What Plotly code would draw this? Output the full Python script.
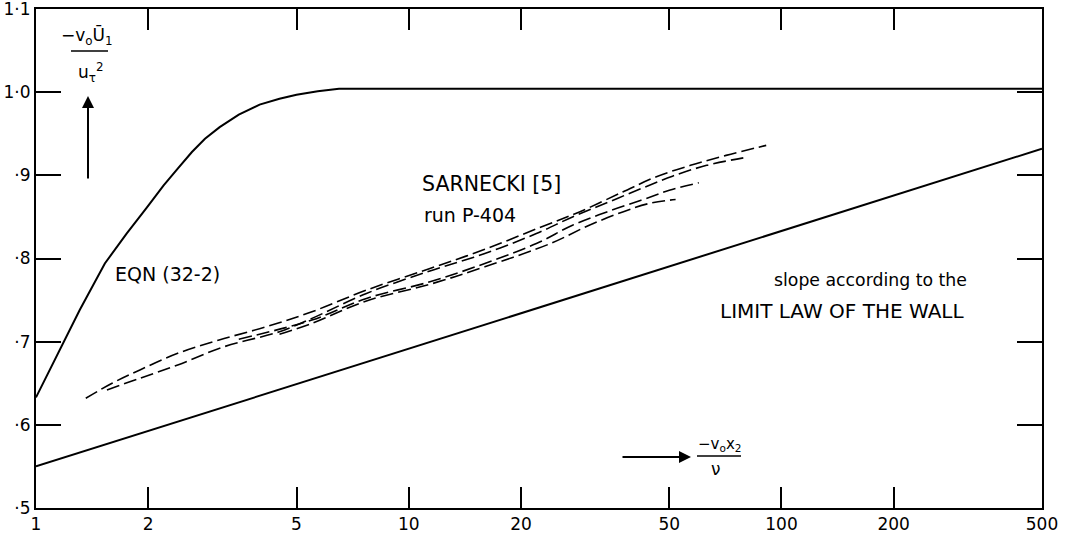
import plotly.graph_objects as go
import math

# ---- data ----
eqn_x = [1.0, 1.1, 1.2, 1.31, 1.53, 1.75, 1.98, 2.2, 2.4, 2.62, 2.84, 3.11, 3.5, 3.98, 4.5, 5.0, 5.7, 6.5, 500]
eqn_y = [0.633, 0.670, 0.705, 0.738, 0.794, 0.830, 0.861, 0.888, 0.908, 0.928, 0.944, 0.958, 0.973, 0.985, 0.992, 0.997, 1.001, 1.004, 1.004]

law_x = [1, 500]
law_y = [0.550, 0.932]

s1_x = [1.36, 1.6, 1.9, 2.4, 3.1, 4.15, 5.5, 7.7, 11.4, 16, 22.4, 28.7, 37.5, 46, 57, 71, 91]
s1_y = [0.632, 0.650, 0.666, 0.686, 0.702, 0.718, 0.736, 0.762, 0.788, 0.811, 0.837, 0.856, 0.880, 0.898, 0.912, 0.924, 0.936]

s2_x = [1.55, 1.9, 2.4, 3.2, 4.5, 5.5, 7.7, 11.4, 16, 22, 27.5, 34, 42, 51, 63, 79]
s2_y = [0.642, 0.656, 0.672, 0.694, 0.712, 0.728, 0.758, 0.785, 0.806, 0.830, 0.850, 0.867, 0.884, 0.899, 0.912, 0.921]

s3_x = [3.5, 5.5, 7.7, 11.4, 16, 22, 27.5, 34, 42, 50, 60]
s3_y = [0.703, 0.726, 0.752, 0.772, 0.794, 0.818, 0.840, 0.856, 0.870, 0.882, 0.891]

s4_x = [4.5, 5.5, 7.7, 11.4, 16, 24, 30.5, 37.5, 44, 52]
s4_y = [0.709, 0.722, 0.749, 0.769, 0.790, 0.818, 0.840, 0.856, 0.866, 0.871]

x_ticks = [1, 2, 5, 10, 20, 50, 100, 200, 500]
x_ticktext = ["1", "2", "5", "10", "20", "50", "100", "200", "500"]
y_ticks = [0.5, 0.6, 0.7, 0.8, 0.9, 1.0, 1.1]
y_ticktext = ["·5", "·6", "·7", "·8", "·9", "1·0", "1·1"]

# ---- figure ----
W, H = 1076, 537
ML, MR, MT, MB = 36, 34, 9, 29
PW, PH = W - ML - MR, H - MT - MB

def px(x):
    return (x - ML) / PW

def py(y):
    return (H - MB - y) / PH

FONT = "DejaVu Sans"
fig = go.Figure()

fig.add_trace(go.Scatter(x=eqn_x, y=eqn_y, mode="lines",
                         line=dict(color="black", width=2), showlegend=False))
fig.add_trace(go.Scatter(x=law_x, y=law_y, mode="lines",
                         line=dict(color="black", width=2), showlegend=False))
for sx, sy in [(s1_x, s1_y), (s2_x, s2_y), (s3_x, s3_y), (s4_x, s4_y)]:
    fig.add_trace(go.Scatter(x=sx, y=sy, mode="lines", line_shape="spline",
                             line=dict(color="black", width=1.6, dash="13px,5px"),
                             showlegend=False))

axis_common = dict(showline=True, linewidth=2, linecolor="black", mirror="ticks",
                   ticks="inside", tickcolor="black", tickwidth=2,
                   showgrid=False, zeroline=False, automargin=False,
                   ticklabeloverflow="allow",
                   tickfont=dict(family=FONT, size=17, color="black"))

fig.update_xaxes(type="log", range=[0, math.log10(500)], tickvals=x_ticks,
                 ticktext=x_ticktext, ticklen=21, ticklabelstandoff=0, **axis_common)
fig.update_yaxes(range=[0.5, 1.1], tickvals=y_ticks, ticktext=y_ticktext,
                 ticklen=25, ticklabelstandoff=0, **axis_common)

ann = []
def text(x, y, t, size=19, xanchor="left"):
    ann.append(dict(x=px(x), y=py(y), xref="paper", yref="paper", text=t,
                    showarrow=False, xanchor=xanchor, yanchor="middle",
                    font=dict(family=FONT, size=size, color="black")))

text(113, 274, "EQN (32-2)")
text(420, 184, "SARNECKI [5]", size=20.5)
text(422, 215, "run P-404")
text(772, 280, "slope according to the", size=17.3)
text(718, 311, "LIMIT LAW OF THE WALL", size=20)

# y-axis quantity label
text(87, 36, "−v<sub>o</sub>Ū<sub>1</sub>", size=17, xanchor="center")
text(91, 72, "u<sub>τ</sub><sup>2</sup>", size=17, xanchor="center")
# x-axis quantity label
text(719, 444, "−v<sub>o</sub>x<sub>2</sub>", size=15, xanchor="center")
text(716, 469, "ν", size=17, xanchor="center")

# arrows
ann.append(dict(x=px(88), y=py(96), xref="paper", yref="paper", text="",
                showarrow=True, ax=0, ay=84, arrowhead=2, arrowsize=1.2,
                arrowwidth=2, arrowcolor="black"))
ann.append(dict(x=px(691), y=py(457), xref="paper", yref="paper", text="",
                showarrow=True, ax=-70, ay=0, arrowhead=2, arrowsize=1.2,
                arrowwidth=2, arrowcolor="black"))

shapes = [
    dict(type="line", xref="paper", yref="paper", x0=px(71), x1=px(108),
         y0=py(51), y1=py(51), line=dict(color="black", width=1.5)),
    dict(type="line", xref="paper", yref="paper", x0=px(697), x1=px(741),
         y0=py(456), y1=py(456), line=dict(color="black", width=1.5)),
]

fig.update_layout(width=W, height=H, margin=dict(l=ML, r=MR, t=MT, b=MB, autoexpand=False),
                  plot_bgcolor="white", paper_bgcolor="white",
                  annotations=ann, shapes=shapes, showlegend=False,
                  font=dict(family=FONT, color="black"))

fig.write_html("out.html", config={"displayModeBar": False},
               post_script="document.body.style.margin='0';document.body.style.overflow='hidden';")
